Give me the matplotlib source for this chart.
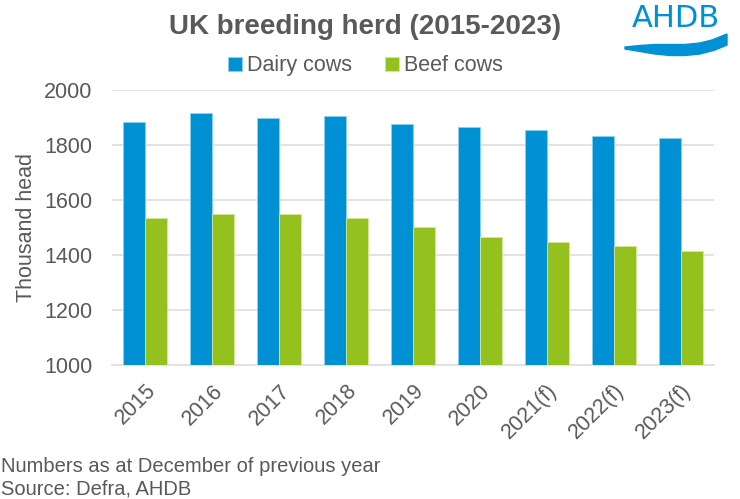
import numpy as np
import matplotlib.pyplot as plt
from matplotlib.patches import Polygon

plt.rcParams['font.family'] = ['Liberation Sans', 'DejaVu Sans']

# data (thousand head)
years = ["2015", "2016", "2017", "2018", "2019", "2020", "2021(f)", "2022(f)", "2023(f)"]
dairy = [1883, 1916, 1898, 1904, 1878, 1865, 1855, 1832, 1827]
beef = [1534, 1549, 1551, 1536, 1501, 1467, 1449, 1434, 1416]

grey = "#595959"
blue = "#0090D4"
green = "#95C11F"

fig = plt.figure(figsize=(7.4, 4.99), dpi=100)
ax = fig.add_axes([0.151, 0.2685, 0.814, 0.551])

x = np.arange(len(years))
w = 0.33
ax.bar(x - w / 2, dairy, w, color=blue, edgecolor="#8fd0f0", linewidth=0.6, label="Dairy cows", zorder=3)
ax.bar(x + w / 2, beef, w, color=green, edgecolor="#d4e8a0", linewidth=0.6, label="Beef cows", zorder=3)

ax.set_ylim(1000, 2000)
ax.set_yticks([1000, 1200, 1400, 1600, 1800, 2000])
ax.set_xlim(-0.5, len(years) - 0.5)
ax.set_xticks(x)
ax.set_xticklabels(years, rotation=45, ha="right", rotation_mode="anchor")
ax.tick_params(axis="both", length=0, labelsize=15.5, labelcolor=grey)
ax.tick_params(axis="y", pad=14)
ax.tick_params(axis="x", pad=11)
ax.grid(axis="y", color="#e0e0e0", linewidth=1.3, zorder=0)
for s in ["top", "right", "left"]:
    ax.spines[s].set_visible(False)
ax.spines["bottom"].set_color("#e0e0e0")
ax.spines["bottom"].set_linewidth(1.3)
ax.set_ylabel("Thousand head", fontsize=15.5, color=grey, labelpad=5)

fig.text(0.494, 0.945, "UK breeding herd (2015-2023)", ha="center", va="center",
         fontsize=20, fontweight="bold", color=grey)
fig.legend(loc="center", bbox_to_anchor=(0.494, 0.868), ncol=2, frameon=False,
           fontsize=15.5, handlelength=0.65, handleheight=0.65, handletextpad=0.25,
           columnspacing=1.5, labelcolor=grey)

# AHDB logo
fig.text(0.913, 0.963, "AHDB", ha="center", va="center", fontsize=22,
         family="DejaVu Sans", color=blue)
upper = [(625, 47), (640, 45.5), (655, 44.5), (670, 44.5), (685, 44.5), (700, 43), (712, 40), (727, 34)]
lower = [(727, 45), (715, 50), (700, 54), (685, 55.5), (670, 55.5), (655, 54), (640, 51.5), (625, 49)]
pts = np.array(upper + lower, dtype=float)
pts[:, 0] /= 740
pts[:, 1] = 1 - pts[:, 1] / 499
fig.add_artist(Polygon(pts, closed=True, color=blue, transform=fig.transFigure))

fig.text(0.002, 0.066, "Numbers as at December of previous year", fontsize=14.5, color=grey, va="center")
fig.text(0.002, 0.020, "Source: Defra, AHDB", fontsize=14.5, color=grey, va="center")

fig.savefig("out.png", dpi=100)
